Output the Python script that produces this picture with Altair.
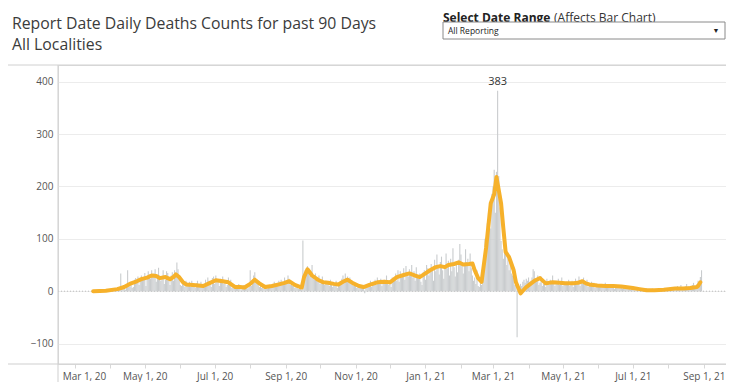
import altair as alt
import pandas as pd

# ---------------- data ----------------
mar20 = [0,0,0,0,0,0,0,0,0,0, 0,0,0,0,0,0,0,0,0,0, 1,0,0,1,0,1,0,1,2,1, 0]
apr20 = [1,3,2,1,3,2,4,3,4,34, 5,6,8,3,12,40,10,9,14,6, 8,22,25,18,28,12,20,30,26,22]
may20 = [35,10,28,38,32,24,40,30,34,42, 18,25,45,30,20,28,40,14,22,38, 35,26,12,30,36,20,40,30,55,42, 28]
jun20 = [12,10,18,14,8,20,16,12,18,8, 20,14,10,6,15,20,12,8,18,10, 6,14,22,12,26,20,16,8,25,28]
jul20 = [14,30,22,18,10,24,20,28,14,20, 8,12,26,18,22,6,10,8,12,4, 10,14,6,2,8,12,10,6,9,5, 14]
aug20 = [40,10,22,30,36,18,22,14,8,10, 6,12,4,8,10,5,12,8,6,14, 10,18,12,8,16,20,14,22,12,18, 26]
sep20 = [20,14,30,24,12,16,10,14,6,12, 8,4,10,6,3,97,20,40,36,48, 42,30,38,50,28,22,34,26,18,30]
oct20 = [14,20,28,18,12,20,14,18,10,22, 16,8,12,14,20,6,10,18,16,24, 30,22,34,20,28,18,26,14,20,10, 16]
nov20 = [12,6,14,8,10,6,10,4,-4,8, 12,10,14,20,8,16,18,22,12,26, 14,20,24,10,18,22,14,30,16,12]
dec20 = [20,8,26,18,24,34,20,40,18,38, 26,30,44,22,48,36,28,42,30,50, 26,38,20,46,28,24,34,18,12,36, 40]
jan21 = [22,50,44,30,36,52,44,20,60,38, 70,48,32,56,66,40,24,50,72,44, 58,30,62,38,82,46,28,54,36,60, 90]
feb21 = [70,52,34,48,80,56,62,38,72,44, 30,20,26,14,40,10,8,18,12,30, 60,100,88,130,150,170,120,186]
mar21 = [200,232,150,228,383,220,160,96,80,62, 74,90,50,70,40,60,34,30,28,12, 20,-88,8,6,14,10,18,22,16,24, 20]
apr21 = [26,18,20,26,42,38,18,22,30,12, 16,28,10,14,20,8,24,18,12,22, 16,30,14,10,20,16,24,12,18,26]
may21 = [10,14,12,18,16,22,10,14,20,8, 16,24,12,18,28,10,20,14,26,12, 16,22,8,14,10,18,12,16,6,12, 14]
jun21 = [8,12,8,14,10,6,16,9,12,8, 11,14,6,10,4,12,8,10,6,9, 12,5,8,4,10,7,6,9,3,8]
jul21 = [5,4,2,6,3,1,5,2,4,3, 0,2,6,1,3,4,2,5,1,3, 0,2,4,6,3,1,5,3,2,4, 6]
aug21 = [3,4,6,3,8,5,2,7,10,4, 6,12,5,8,3,9,14,6,10,4, 8,12,16,6,10,14,20,12,27,40]

month_starts = ["2020-03", "2020-04", "2020-05", "2020-06", "2020-07", "2020-08",
                "2020-09", "2020-10", "2020-11", "2020-12", "2021-01", "2021-02",
                "2021-03", "2021-04", "2021-05", "2021-06", "2021-07", "2021-08"]
month_values = [mar20, apr20, may20, jun20, jul20, aug20, sep20, oct20, nov20, dec20,
                jan21, feb21, mar21, apr21, may21, jun21, jul21, aug21]

# orange average line: (date, value)
avg_dates = ["2020-03-17","2020-03-28","2020-04-07","2020-04-13","2020-04-19","2020-04-24",
             "2020-04-28","2020-05-03","2020-05-07","2020-05-11","2020-05-14","2020-05-19",
             "2020-05-23","2020-05-26","2020-05-28","2020-05-31","2020-06-03","2020-06-06",
             "2020-06-12","2020-06-17","2020-06-21","2020-06-26","2020-07-02","2020-07-08",
             "2020-07-13","2020-07-19","2020-07-23","2020-07-27","2020-08-01","2020-08-05",
             "2020-08-09","2020-08-14","2020-08-20","2020-08-26","2020-08-31","2020-09-04",
             "2020-09-09","2020-09-15","2020-09-17","2020-09-20","2020-09-24","2020-09-29",
             "2020-10-04","2020-10-08","2020-10-13","2020-10-17","2020-10-21","2020-10-25",
             "2020-10-30","2020-11-04","2020-11-08","2020-11-13","2020-11-20","2020-11-26",
             "2020-12-01","2020-12-07","2020-12-13","2020-12-18","2020-12-23","2020-12-27",
             "2021-01-01","2021-01-05","2021-01-10","2021-01-14","2021-01-18","2021-01-21",
             "2021-01-26","2021-01-30","2021-02-03","2021-02-08","2021-02-11","2021-02-13",
             "2021-02-16","2021-02-19","2021-02-23","2021-02-27","2021-03-02","2021-03-04",
             "2021-03-08","2021-03-10","2021-03-12","2021-03-15","2021-03-19","2021-03-21",
             "2021-03-25","2021-03-30","2021-04-07","2021-04-11","2021-04-16","2021-04-22",
             "2021-04-28","2021-05-03","2021-05-10","2021-05-14","2021-05-18","2021-05-21",
             "2021-05-24","2021-05-31","2021-06-07","2021-06-14","2021-06-21","2021-07-01",
             "2021-07-07","2021-07-13","2021-07-20","2021-07-28","2021-08-07","2021-08-14",
             "2021-08-20","2021-08-26","2021-08-27","2021-08-29"]
avg_values = [0,1,4,8,15,19,
              23,26,30,29,25,27,
              23,27,32,27,18,13,
              12,11,10,15,21,19,
              17,8,8,7,14,22,
              15,8,10,13,16,19,
              12,7,27,42,30,22,
              17,16,14,13,18,22,
              15,10,8,12,17,18,
              17,27,31,34,30,27,
              34,40,46,48,46,50,
              52,55,51,52,53,40,
              25,18,84,168,185,218,
              168,120,75,65,40,17,
              -4,8,21,25,15,17,
              16,15,15,16,19,15,
              13,11,10,10,9,6,
              4,2,2,3,5,5,
              6,8,10,17]

y_ticks = [-100, 0, 100, 200, 300, 400]

title_line1 = "Report Date Daily Deaths Counts for past 90 Days"
title_line2 = "All Localities"
selector_bold = "Select Date Range"
selector_rest = "(Affects Bar Chart)"
selector_value = "All Reporting"

# ---------------- build tables ----------------
rows = []
for ym, vals in zip(month_starts, month_values):
    start = pd.Timestamp(ym + "-01")
    for i, v in enumerate(vals):
        rows.append({"date": start + pd.Timedelta(days=i), "deaths": v})
bars_df = pd.DataFrame(rows)
avg_df = pd.DataFrame({"date": pd.to_datetime(avg_dates), "deaths": avg_values})

W, H = 668, 299
FONT = "Open Sans"
x_dom = [alt.DateTime(year=2020, month=2, date=19, hours=14),
         alt.DateTime(year=2021, month=9, date=16)]
x_scale = alt.Scale(domain=x_dom)
y_scale = alt.Scale(domain=[-139, 432], nice=False, zero=False)

month_ticks = [alt.DateTime(year=2020 + (m // 12), month=(m % 12) + 1, date=1) for m in range(2, 21)]

x_axis = alt.Axis(values=month_ticks, title=None, grid=False, domain=False,
                  tickColor="#d8d8d8", tickSize=4, labelPadding=3,
                  labelExpr="month(datum.value) % 2 == 0 ? timeFormat(datum.value, '%b %-d, %y') : ''",
                  labelOffset={"condition": {"test": "year(datum.value) == 2020 && month(datum.value) == 2",
                                             "value": 9}, "value": 0},
                  labelFont=FONT, labelFontSize=10, labelColor="#555555",
                  labelFlush=False, labelOverlap=False)
y_axis = alt.Axis(values=y_ticks, title=None, grid=True, gridColor="#ececec",
                  domain=False, ticks=False, labelPadding=5,
                  labelFont=FONT, labelFontSize=10, labelColor="#555555")

one = pd.DataFrame({"deaths": [0]})

zero_line = alt.Chart(one).mark_rule(color="#bbbbbb", strokeDash=[1, 2], strokeWidth=1).encode(
    y=alt.Y("deaths:Q", scale=y_scale, axis=y_axis), x=alt.value(0), x2=alt.value(W))

bars = alt.Chart(bars_df).mark_bar(color="#c9ccce", size=1.1).encode(
    x=alt.X("date:T", scale=x_scale, axis=x_axis),
    y=alt.Y("deaths:Q", scale=y_scale, axis=y_axis), y2=alt.datum(0))

peak_label = alt.Chart(bars_df).transform_filter("datum.deaths == 383").mark_text(
    dy=-9, fontSize=11, font=FONT, color="#333333").encode(
    x=alt.X("date:T", scale=x_scale, axis=x_axis),
    y=alt.Y("deaths:Q", scale=y_scale, axis=y_axis), text="deaths:Q")

avg_line = alt.Chart(avg_df).mark_line(color="#f6b12b", strokeWidth=4, strokeJoin="round", strokeCap="round").encode(
    x=alt.X("date:T", scale=x_scale, axis=x_axis),
    y=alt.Y("deaths:Q", scale=y_scale, axis=y_axis))

def prule(x1, x2, y1, y2, color="#cccccc"):
    return alt.Chart(one).mark_rule(color=color, strokeWidth=1).encode(
        x=alt.value(x1), x2=alt.value(x2), y=alt.value(y1), y2=alt.value(y2))

top_line = prule(-50, W, 0, 0, "#d0d0d0")
bottom_line = prule(-50, W, H, H, "#cfcfcf")
left_line = prule(0, 0, 0, 317, "#cfcfcf")

def ptext(txt, x, y, size, weight="normal", color="#333333", align="left"):
    return alt.Chart(one).mark_text(text=txt, fontSize=size, fontWeight=weight, font=FONT,
                                    color=color, align=align, baseline="middle").encode(
        x=alt.value(x), y=alt.value(y))

t1 = ptext(title_line1, -46, -41, 15.8, color="#3b3b3b")
t2 = ptext(title_line2, -46, -20, 15.8, color="#3b3b3b")
s1 = ptext(selector_bold, 385, -47, 12, weight="bold", color="#222222")
s2 = ptext(selector_rest, 496, -47, 12, color="#333333")
box = alt.Chart(one).mark_rect(fill="white", stroke="#8a8a8a", strokeWidth=1).encode(
    x=alt.value(385), x2=alt.value(667), y=alt.value(-43), y2=alt.value(-26))
s3 = ptext(selector_value, 390, -34.5, 8.5, color="#222222")
arrow = ptext("▼", 658, -34.5, 7, color="#222222", align="center")

chart = alt.layer(
    zero_line, bars, avg_line, peak_label,
    top_line, bottom_line, left_line,
    t1, t2, s1, s2, box, s3, arrow
).properties(
    width=W, height=H,
    padding={"left": 50, "top": 57, "right": 0, "bottom": 18},
    autosize=alt.AutoSizeParams(type="none"),
).configure_view(stroke=None).configure(background="white")

chart.save("out.html", embed_options={"renderer": "svg", "actions": False})
